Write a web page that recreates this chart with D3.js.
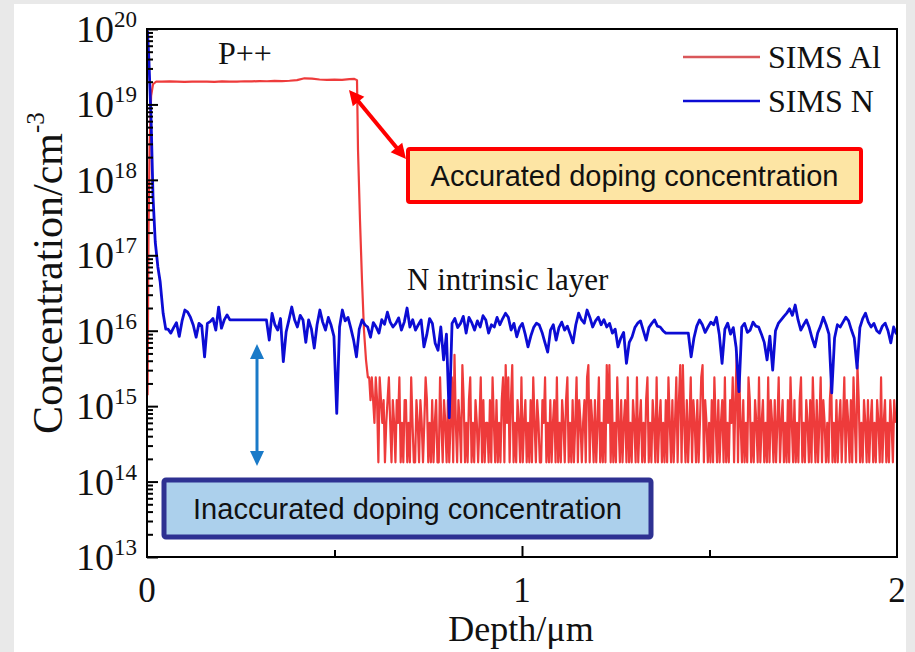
<!DOCTYPE html>
<html><head><meta charset="utf-8">
<script src="https://cdn.jsdelivr.net/npm/d3@7"></script>
<style>
body{margin:0;background:#e9e9e9}
svg{display:block}
</style>
</head><body>
<svg id="chart" width="915" height="652"></svg>
<script>
// ---- data ----
const depthDomain = [0, 2];            // µm
const concDomain = [1e13, 1e20];       // cm^-3
const xTickLabels = ["0", "1", "2"];
const xTickValues = [0, 1, 2];
const xMinorTicks = [0.5, 1.5];
const yTickExponents = [13, 14, 15, 16, 17, 18, 19, 20];
const seriesNames = ["SIMS Al", "SIMS N"];
const seriesColors = ["#ee3b3b", "#0c0cd4"];

// Al: surface rise, P++ plateau and fall-off (depth µm, conc cm^-3)
const alHeadDepth = [0.0015, 0.004, 0.007, 0.011, 0.016, 0.024,
  0.04, 0.06, 0.08, 0.10, 0.12, 0.14, 0.16, 0.18, 0.20, 0.22, 0.24, 0.26, 0.28, 0.30,
  0.32, 0.34, 0.36, 0.38, 0.40, 0.42, 0.44, 0.46, 0.48, 0.50, 0.52, 0.54, 0.553,
  0.560, 0.5627, 0.568, 0.5733, 0.5787, 0.584];
const alHeadConc = [1.4e15, 2e17, 3e18, 1.3e19, 1.85e19, 2.0e19,
  2.0e19, 2.02e19, 2.0e19, 1.99e19, 2.01e19, 2.0e19, 2.01e19, 1.99e19, 2.02e19, 2.0e19, 2.01e19, 2.03e19, 2.02e19, 2.04e19,
  2.03e19, 2.05e19, 2.04e19, 2.06e19, 2.1e19, 2.22e19, 2.2e19, 2.14e19, 2.12e19, 2.13e19, 2.12e19, 2.16e19, 2.18e19,
  2.1e19, 2.5e18, 2.9e17, 4.7e16, 1.0e16, 4.1e15];

// Al background beyond the layer, uniform depth step, units of 1e14 cm^-3
const alTailStart = 0.589, alTailStep = 0.0035, alTailUnit = 1e14;
const alTail = [
  24,24,12,24,12,6,24,12,1.8,24,12,6,12,1.8,6,12,24,6,1.8,12,
  6,1.8,12,6,24,1.8,6,1.8,12,12,1.8,6,1.8,24,6,1.8,1.8,12,6,1.8,
  12,6,1.8,6,24,12,1.8,6,1.8,12,1.8,6,12,1.8,1.8,24,6,1.8,12,6,
  1.8,12,1.8,6,24,1.8,48,6,1.8,12,6,1.8,35,12,1.8,6,1.8,12,24,1.8,
  6,1.8,12,6,1.8,6,24,1.8,12,1.8,6,6,1.8,12,1.8,24,6,1.8,12,1.8,
  6,1.8,12,24,1.8,35,6,24,1.8,12,35,1.8,6,1.8,12,6,1.8,24,1.8,6,
  12,1.8,6,1.8,12,1.8,24,6,1.8,12,6,1.8,1.8,12,6,24,1.8,6,1.8,12,
  1.8,6,12,1.8,24,1.8,6,1.8,12,6,1.8,12,24,1.8,6,1.8,12,1.8,6,24,
  1.8,12,6,1.8,6,12,1.8,24,35,1.8,12,6,1.8,12,1.8,6,24,1.8,6,1.8,
  12,1.8,35,6,35,1.8,12,1.8,6,1.8,24,6,1.8,12,1.8,6,12,1.8,24,1.8,
  6,1.8,12,6,1.8,24,1.8,6,12,1.8,6,1.8,12,24,1.8,6,1.8,12,6,1.8,
  24,1.8,6,12,1.8,6,1.8,12,1.8,24,6,1.8,12,1.8,6,24,1.8,12,35,1.8,
  35,6,1.8,12,1.8,6,24,1.8,12,6,1.8,12,1.8,6,24,35,1.8,12,6,1.8,
  6,1.8,12,1.8,24,6,1.8,12,1.8,6,12,1.8,24,1.8,6,1.8,12,6,24,1.8,
  12,48,1.8,24,6,1.8,12,1.8,6,1.8,24,12,1.8,6,1.8,12,6,1.8,24,1.8,
  6,12,1.8,6,1.8,24,1.8,12,6,1.8,12,1.8,6,24,1.8,6,12,1.8,6,1.8,
  12,1.8,24,6,1.8,12,1.8,6,1.8,12,24,1.8,6,1.8,12,6,1.8,12,1.8,24,
  6,1.8,12,1.8,6,24,1.8,12,6,1.8,6,1.8,12,24,1.8,6,1.8,12,1.8,6,
  12,1.8,6,24,1.8,12,6,1.8,12,1.8,24,6,1.8,35,12,1.8,6,1.8,12,6,
  1.8,12,1.8,6,12,1.8,6,1.8,12,6,1.8,24,1.8,6,12,1.8,6,1.8,12,6,
  1.8,12,6
];

// N: surface peak and fall to the intrinsic-layer level
const nHeadDepth = [0.0013, 0.005, 0.011, 0.016, 0.022, 0.029, 0.035, 0.043, 0.05];
const nHeadConc = [9.5e19, 4e19, 6e18, 6e17, 1.5e17, 7e16, 4.5e16, 1.7e16, 1.05e16];

// N in the intrinsic layer, uniform depth step, units of 1e15 cm^-3
const nTailStart = 0.056, nTailStep = 0.0075, nTailUnit = 1e15;
const nTail = [
  10.5,9.3,11.0,12.8,8.4,13.5,18.8,17.6,15.0,11.8,
  8.2,12.5,11.6,4.5,12.5,13.2,14.5,10.2,20.6,10.8,
  13.9,16.2,13.9,13.9,13.9,13.9,13.9,13.9,13.9,13.9,
  13.9,13.9,13.9,13.9,13.9,13.9,7.5,17.0,12.0,10.2,
  14.5,3.9,9.6,13.9,20.6,14.0,11.2,16.0,13.9,7.0,
  13.9,10.5,5.9,12.0,18.8,13.0,10.2,15.0,11.8,8.4,
  0.8,11.2,18.8,13.5,15.0,10.8,7.5,4.5,10.5,13.9,
  12.0,11.2,8.2,12.8,11.2,9.3,14.0,12.2,17.6,13.0,
  11.2,12.5,14.8,10.2,13.0,20.0,11.2,14.0,10.2,12.0,
  13.9,6.1,8.8,14.5,12.5,6.8,5.5,11.2,4.1,9.0,
  0.7,12.5,14.5,11.0,12.5,15.5,9.3,15.0,12.8,10.2,
  13.5,11.2,15.8,13.9,9.3,12.0,11.2,15.0,12.0,14.5,
  17.0,15.1,10.2,12.5,8.3,11.0,12.5,9.0,6.1,8.5,
  11.0,12.6,11.9,9.5,7.0,5.2,10.2,12.0,7.5,11.0,
  13.0,10.2,11.5,9.0,6.9,12.0,17.1,14.0,12.6,18.8,
  15.0,11.2,13.5,15.1,12.0,14.0,11.2,12.5,9.3,10.5,
  6.1,8.0,9.5,3.7,7.0,8.3,11.0,12.6,13.5,10.0,
  7.5,11.0,12.5,13.9,11.5,11.2,10.0,9.3,9.3,9.3,
  9.3,9.3,9.3,9.3,9.3,9.3,4.5,8.0,11.5,13.9,
  12.0,9.5,11.2,13.0,12.0,15.1,9.0,3.7,10.5,12.6,
  9.0,11.0,6.0,1.56,11.2,12.5,9.5,10.2,13.0,11.5,
  11.2,9.0,7.0,4.1,8.5,3.0,10.0,12.5,13.9,15.5,
  17.1,19.5,16.0,21.9,14.0,10.2,12.0,13.9,11.0,8.0,
  6.1,9.3,11.5,15.1,12.0,9.0,1.5,8.0,12.0,11.2,
  13.0,15.1,13.5,10.2,8.0,3.2,11.0,14.5,17.1,13.0,
  11.2,12.5,10.0,9.3,11.5,12.6,10.0,6.9,11.2,9.0
];

// ---- layout ----
const W = 915, H = 652;
const plot = {left: 147, right: 897, top: 29, bottom: 557};
const serif = "'Liberation Serif','Times New Roman',serif";
const sans = "'Liberation Sans',Arial,sans-serif";

const svg = d3.select("#chart");

// page panel
svg.append("rect").attr("x", 0).attr("y", 0).attr("width", W).attr("height", H).attr("fill", "#e9e9e9");
svg.append("rect").attr("x", 14).attr("y", 4).attr("width", 892).attr("height", H - 4).attr("fill", "#ffffff");

const x = d3.scaleLinear().domain(depthDomain).range([plot.left, plot.right]);
const y = d3.scaleLog().domain(concDomain).range([plot.bottom, plot.top]);

// assemble series
const alData = alHeadDepth.map((d, i) => [d, alHeadConc[i]])
  .concat(alTail.map((v, i) => [alTailStart + i * alTailStep, v * alTailUnit]));
const nData = nHeadDepth.map((d, i) => [d, nHeadConc[i]])
  .concat(nTail.map((v, i) => [nTailStart + i * nTailStep, v * nTailUnit]));

svg.append("clipPath").attr("id", "plotClip")
  .append("rect").attr("x", plot.left).attr("y", plot.top)
  .attr("width", plot.right - plot.left).attr("height", plot.bottom - plot.top);

const line = d3.line().x(d => x(d[0])).y(d => y(d[1]));
const lines = svg.append("g").attr("clip-path", "url(#plotClip)");
lines.append("path").datum(alData).attr("d", line)
  .attr("fill", "none").attr("stroke", seriesColors[0]).attr("stroke-width", 2.2).attr("stroke-linejoin", "round");
lines.append("path").datum(nData).attr("d", line)
  .attr("fill", "none").attr("stroke", seriesColors[1]).attr("stroke-width", 2.8).attr("stroke-linejoin", "round");

// ---- axes (ticks point inward) ----
const axStyle = g => {
  g.selectAll(".domain").remove();
  g.selectAll("line").attr("stroke", "#000").attr("stroke-width", 2);
  g.selectAll("text").remove();
};
svg.append("g").attr("transform", `translate(0,${plot.bottom})`)
  .call(d3.axisBottom(x).tickValues([1]).tickSize(-11)).call(axStyle);
svg.append("g").attr("transform", `translate(0,${plot.bottom})`)
  .call(d3.axisBottom(x).tickValues(xMinorTicks).tickSize(-7)).call(axStyle);

const majorY = yTickExponents.map(e => Math.pow(10, e));
const minorY = [];
yTickExponents.slice(0, -1).forEach(e => { for (let m = 2; m <= 9; m++) minorY.push(m * Math.pow(10, e)); });
svg.append("g").attr("transform", `translate(${plot.left},0)`)
  .call(d3.axisLeft(y).tickValues(majorY).tickSize(-11)).call(axStyle);
svg.append("g").attr("transform", `translate(${plot.left},0)`)
  .call(d3.axisLeft(y).tickValues(minorY).tickSize(-6)).call(axStyle);

// frame
svg.append("rect").attr("x", plot.left).attr("y", plot.top)
  .attr("width", plot.right - plot.left).attr("height", plot.bottom - plot.top)
  .attr("fill", "none").attr("stroke", "#000").attr("stroke-width", 2);

// x tick labels
svg.append("g").selectAll("text").data(xTickValues).join("text")
  .attr("x", d => x(d)).attr("y", plot.bottom + 45)
  .attr("text-anchor", "middle").attr("font-family", serif).attr("font-size", 35)
  .attr("fill", "#111").text((d, i) => xTickLabels[i]);

// y tick labels 10^n
const yl = svg.append("g").selectAll("text").data(yTickExponents).join("text")
  .attr("x", plot.left - 10).attr("y", e => y(Math.pow(10, e)) + 13)
  .attr("text-anchor", "end").attr("font-family", serif).attr("fill", "#111");
yl.append("tspan").attr("font-size", 38).text("10");
yl.append("tspan").attr("font-size", 23).attr("dy", -15).text(e => e);

// axis titles
svg.append("text").attr("x", (plot.left + plot.right) / 2 - 1).attr("y", 641)
  .attr("text-anchor", "middle").attr("font-family", serif).attr("font-size", 36).attr("fill", "#111")
  .text("Depth/\u03bcm");
const yt = svg.append("text").attr("transform", "translate(62,273) rotate(-90)")
  .attr("text-anchor", "middle").attr("font-family", serif).attr("font-size", 42).attr("fill", "#111");
yt.append("tspan").text("Concentration/cm");
yt.append("tspan").attr("font-size", 25).attr("dy", -18).text("-3");

// region labels
svg.append("text").attr("x", 218).attr("y", 64).attr("font-family", serif).attr("font-size", 32)
  .attr("fill", "#111").text("P++");
svg.append("text").attr("x", 407).attr("y", 290).attr("font-family", serif).attr("font-size", 31)
  .attr("fill", "#111").text("N intrinsic layer");

// legend
const legend = svg.append("g");
seriesNames.forEach((name, i) => {
  const ly = 57 + i * 44;
  legend.append("line").attr("x1", 683).attr("x2", 760).attr("y1", ly).attr("y2", ly)
    .attr("stroke", i === 0 ? "#d9575a" : seriesColors[1]).attr("stroke-width", 2.4);
  legend.append("text").attr("x", 768).attr("y", ly + 11).attr("font-family", serif)
    .attr("font-size", 32).attr("fill", "#111").text(name);
});

// double-headed annotation arrows
function arrow(x1, y1, x2, y2, color, width, headLen, headHalf) {
  const dx = x2 - x1, dy = y2 - y1, len = Math.hypot(dx, dy);
  const ux = dx / len, uy = dy / len, px = -uy, py = ux;
  const g = svg.append("g");
  g.append("line")
    .attr("x1", x1 + ux * headLen * 0.8).attr("y1", y1 + uy * headLen * 0.8)
    .attr("x2", x2 - ux * headLen * 0.8).attr("y2", y2 - uy * headLen * 0.8)
    .attr("stroke", color).attr("stroke-width", width);
  const head = (tx, ty, sx, sy) => {
    const bx = tx + sx * headLen, by = ty + sy * headLen;
    return [[tx, ty], [bx + px * headHalf, by + py * headHalf], [bx - px * headHalf, by - py * headHalf]];
  };
  [head(x1, y1, ux, uy), head(x2, y2, -ux, -uy)].forEach(pts => {
    g.append("path").attr("d", "M" + pts.map(p => p.join(",")).join("L") + "Z").attr("fill", color);
  });
}
arrow(349, 90, 406, 159, "#ff0000", 4, 15, 7.5);
arrow(257, 344, 257, 466, "#1a7ac8", 3, 15, 7);

// annotation boxes
function noteBox(bx, by, bw, bh, fill, stroke, sw, label) {
  svg.append("rect").attr("x", bx).attr("y", by).attr("width", bw).attr("height", bh)
    .attr("rx", 2).attr("fill", fill).attr("stroke", stroke).attr("stroke-width", sw);
  svg.append("text").attr("x", bx + bw / 2).attr("y", by + bh / 2 + 10)
    .attr("text-anchor", "middle").attr("font-family", sans).attr("font-size", 29)
    .attr("fill", "#111").text(label);
}
noteBox(408, 149, 453, 53, "#fde5a4", "#ff0000", 4, "Accurated doping concentration");
noteBox(164, 480, 487, 57, "#acd0ec", "#2e3192", 5, "Inaccurated doping concentration");
</script>
</body></html>
